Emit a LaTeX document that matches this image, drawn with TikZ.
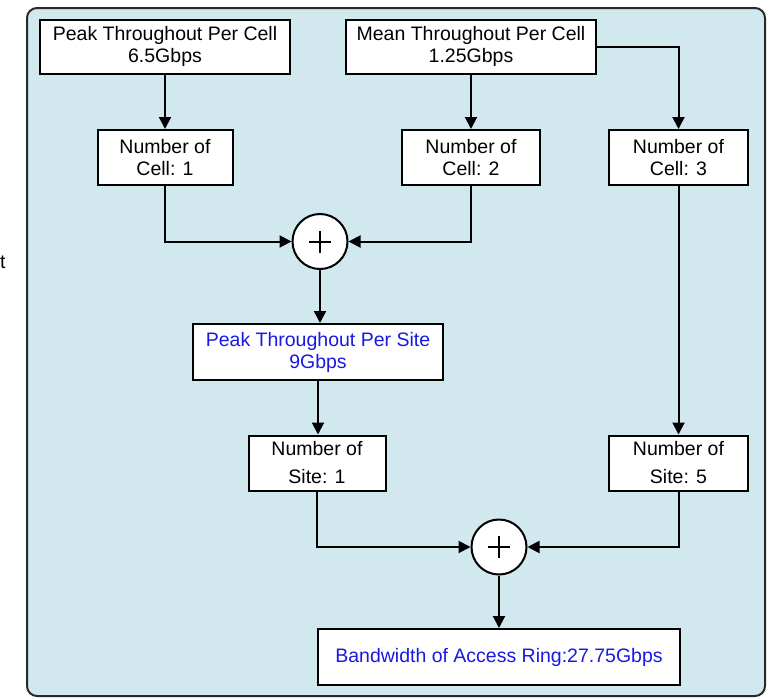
\documentclass[tikz,border=0pt]{standalone}
\usepackage{fontspec}
\setmainfont{Liberation Sans}
\usetikzlibrary{arrows.meta}
\definecolor{bgblue}{RGB}{208,232,238}
\definecolor{framegray}{RGB}{40,40,40}
\definecolor{txtblue}{RGB}{25,25,225}
\tikzset{
  box/.style={draw=black, fill=white, line width=2pt, align=center, inner sep=0pt,
    font=\fontsize{19.5}{22}\selectfont},
  sitebox/.style={box, font=\fontsize{19.5}{28}\selectfont},
  sumnode/.style={draw=black, fill=white, line width=2pt, circle, minimum size=55pt, inner sep=0pt,
    path picture={\draw[line width=2pt] ([xshift=-11pt]path picture bounding box.center) -- ([xshift=11pt]path picture bounding box.center);
                  \draw[line width=2pt] ([yshift=-11pt]path picture bounding box.center) -- ([yshift=11pt]path picture bounding box.center);}},
  conn/.style={draw=black, line width=2pt, -{Triangle[length=12pt,width=12pt]}}
}
\begin{document}
\begin{tikzpicture}[x=1pt,y=-1pt]
\useasboundingbox (0,0) rectangle (771,699);
\node[font=\fontsize{19.5}{22}\selectfont, anchor=base west, inner sep=0pt] (frag) at (0,268) {t};
\draw[fill=bgblue, draw=framegray, line width=2pt, rounded corners=10pt] (27,8) rectangle (765,696);
\node[box, minimum width=250pt, minimum height=54pt] (peakcell) at (165,46.5) {Peak Throughout Per Cell\\6.5Gbps};
\node[box, minimum width=250pt, minimum height=54pt] (meancell) at (471,46.5) {Mean Throughout Per Cell\\1.25Gbps};
\node[box, minimum width=135pt, minimum height=55pt] (cell1) at (165,157.5) {Number of\\Cell: 1};
\node[box, minimum width=138pt, minimum height=55pt] (cell2) at (471,157.5) {Number of\\Cell: 2};
\node[box, minimum width=139pt, minimum height=55pt] (cell3) at (678.5,157.5) {Number of\\Cell: 3};
\node[sumnode] (sum1) at (320,241.5) {};
\node[box, minimum width=250pt, minimum height=56pt, text=txtblue] (peaksite) at (318,352) {Peak Throughout Per Site\\9Gbps};
\node[sitebox, minimum width=137pt, minimum height=55pt] (site1) at (317,463) {Number of\\Site: 1};
\node[sitebox, minimum width=139pt, minimum height=55pt] (site5) at (678.5,463) {Number of\\Site: 5};
\node[sumnode] (sum2) at (499,547) {};
\node[box, minimum width=362pt, minimum height=56pt, text=txtblue] (band) at (499,657) {Bandwidth of Access Ring:27.75Gbps};
\draw[conn] (peakcell.south) -- (cell1.north);
\draw[conn] (meancell.south) -- (cell2.north);
\draw[conn] (meancell.east) -| (cell3.north);
\draw[conn] (cell1.south) |- (sum1.west);
\draw[conn] (cell2.south) |- (sum1.east);
\draw[conn] (sum1.south) -- (sum1 |- peaksite.north);
\draw[conn] (peaksite.south) -- (peaksite.south |- site1.north);
\draw[conn] (cell3.south) -- (site5.north);
\draw[conn] (site1.south) |- (sum2.west);
\draw[conn] (site5.south) |- (sum2.east);
\draw[conn] (sum2.south) -- (band.north);
\end{tikzpicture}
\end{document}
